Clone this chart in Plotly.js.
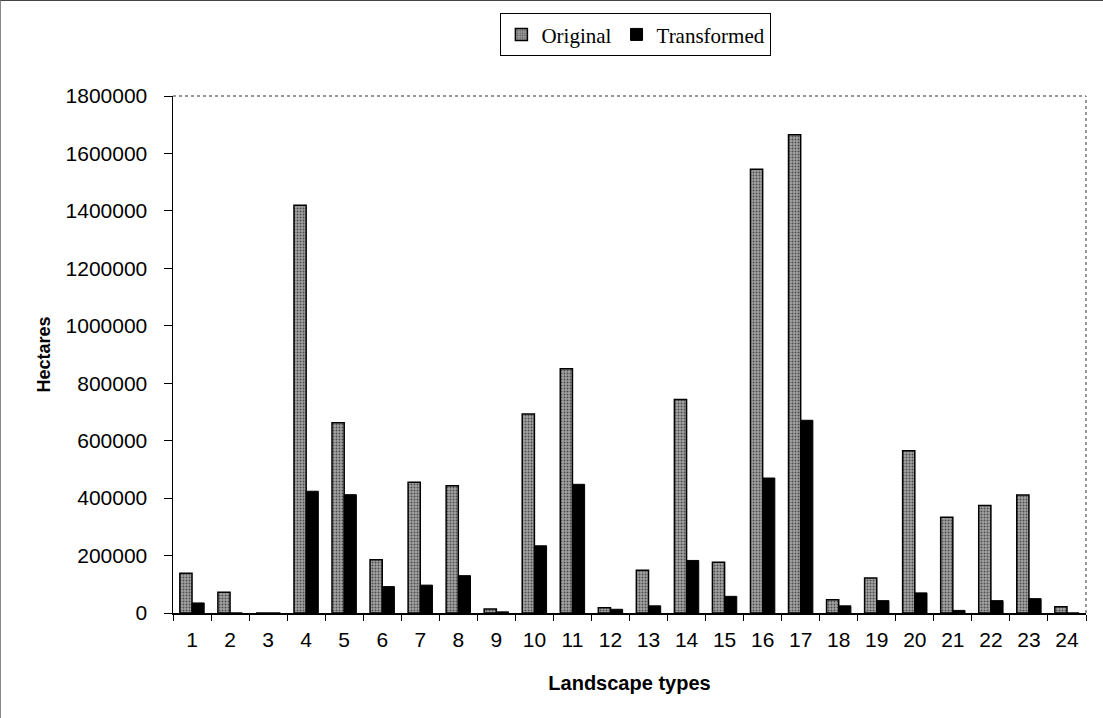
<!DOCTYPE html>
<html>
<head>
<meta charset="utf-8">
<script src="https://cdn.plot.ly/plotly-3.0.1.min.js"></script>
<style>
html,body{margin:0;padding:0;background:#fff;}
#chart{width:1103px;height:718px;box-sizing:border-box;border-top:1px solid #444;border-left:1px solid #888;}
</style>
</head>
<body>
<div id="chart"></div>
<script>
const categories = ["1","2","3","4","5","6","7","8","9","10","11","12","13","14","15","16","17","18","19","20","21","22","23","24"];
const original = [138000,72000,0,1420000,662000,185000,455000,443000,14000,693000,850000,18000,149000,743000,177000,1545000,1665000,46000,122000,565000,333000,374000,411000,22000];
const transformed = [35000,0,0,424000,412000,92000,97000,130000,4000,234000,448000,13000,25000,183000,58000,470000,671000,25000,43000,70000,9000,43000,50000,0];
const yTicks = [0,200000,400000,600000,800000,1000000,1200000,1400000,1600000,1800000];

const traces = [
  {type:'bar', name:'Original', x:categories, y:original,
   marker:{color:'#999', line:{color:'#000', width:1.5},
           pattern:{shape:'.', fgcolor:'#4d4d4d', bgcolor:'#a4a4a4', size:3, solidity:0.35}}},
  {type:'bar', name:'Transformed', x:categories, y:transformed,
   marker:{color:'#000', line:{color:'#000', width:1}}}
];

const layout = {
  width:1103, height:718,
  margin:{l:172, r:18, t:93, b:106},
  paper_bgcolor:'#fff', plot_bgcolor:'#fff',
  barmode:'group', bargap:0.36, bargroupgap:0,
  font:{family:'Arial, Liberation Sans, sans-serif', color:'#000', size:21},
  showlegend:true,
  legend:{orientation:'h', x:0.507, xanchor:'center', y:1.16, yanchor:'top',
          bordercolor:'#000', borderwidth:1, bgcolor:'#fff',
          font:{family:'Liberation Serif, Times New Roman, serif', size:21, color:'#000'},
          itemwidth:30, traceorder:'normal'},
  xaxis:{type:'category', showline:true, linecolor:'#000', linewidth:1.5,
         ticks:'outside', ticklen:6, tickcolor:'#000', tickson:'boundaries',
         showgrid:false, zeroline:false, ticklabelstandoff:7,
         tickfont:{size:21},
         title:{text:'Landscape types', font:{size:20, family:'Arial, Liberation Sans, sans-serif', weight:'bold'}, standoff:26}},
  yaxis:{range:[0,1800000], tickvals:yTicks, ticktext:yTicks.map(String),
         showline:true, linecolor:'#000', linewidth:1.5,
         ticks:'outside', ticklen:8, tickcolor:'#000', ticklabelstandoff:12,
         showgrid:false, zeroline:false, tickfont:{size:21},
         title:{text:'Hectares', font:{size:18, family:'Arial, Liberation Sans, sans-serif', weight:'bold'}, standoff:10}},
  shapes:[
    {type:'line', xref:'paper', yref:'paper', x0:0, x1:1, y0:1, y1:1, line:{color:'#777', width:1.5, dash:'dot'}},
    {type:'line', xref:'paper', yref:'paper', x0:1, x1:1, y0:0, y1:1, line:{color:'#777', width:1.5, dash:'dot'}}
  ]
};

Plotly.newPlot('chart', traces, layout, {displayModeBar:false, staticPlot:true});
</script>
</body>
</html>
